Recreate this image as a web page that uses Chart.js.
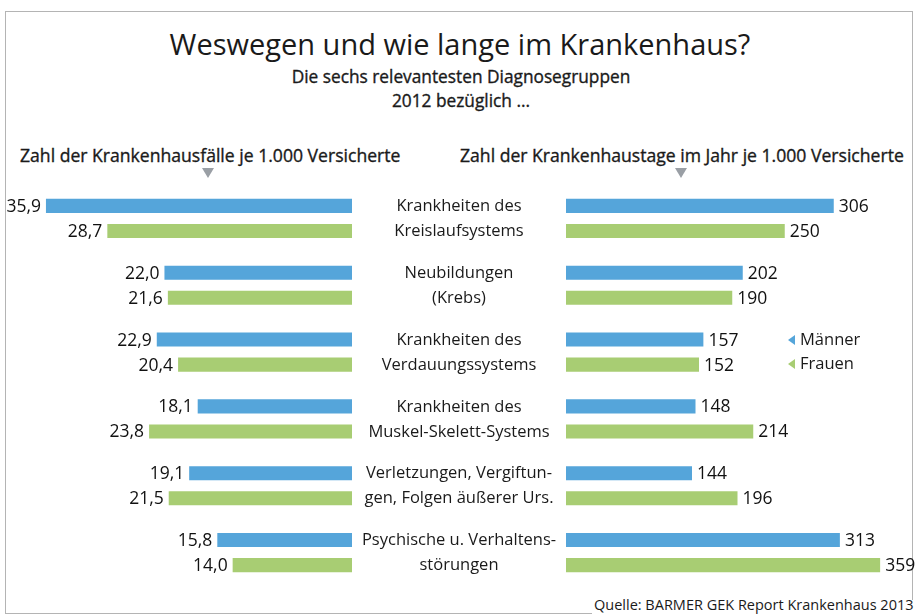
<!DOCTYPE html>
<html>
<head>
<meta charset="utf-8">
<script src="https://cdn.jsdelivr.net/npm/chart.js@4"></script>
<style>
  html, body { margin: 0; padding: 0; background: #fff; }
  #wrap { position: relative; width: 920px; height: 616px; overflow: hidden; font-family: "Open Sans", sans-serif; color: #1a1a1a; }
  #wrap canvas { position: absolute; left: 0; top: 0; }
  .frame { position: absolute; left: 5px; top: 11px; width: 907px; height: 602px; border: 1.5px solid #b4b4b4; border-bottom: none; border-right: none; }
  .frame-r { position: absolute; left: 912px; top: 11px; width: 0; height: 589px; border-left: 1.5px solid #b4b4b4; }
  .frame-b { position: absolute; left: 5px; top: 613px; width: 587px; height: 0; border-top: 1.5px solid #b4b4b4; }
  .t { position: absolute; white-space: nowrap; }
  .med { -webkit-text-stroke: 0.35px #1a1a1a; }
  .tri { position: absolute; width: 0; height: 0; border-left: 6px solid transparent; border-right: 6px solid transparent; border-top: 10px solid #9a9fa5; }
</style>
</head>
<body>
<div id="wrap">
  <div class="frame"></div>
  <div class="frame-r"></div>
  <div class="frame-b"></div>
  <div class="t" style="left:0;width:920px;text-align:center;top:24px;font-size:29px;">Weswegen und wie lange im Krankenhaus?</div>
  <div class="t med" style="left:0;width:922px;text-align:center;top:65px;font-size:17.3px;line-height:24px;">Die sechs relevantesten Diagnosegruppen<br>2012 bezüglich ...</div>
  <div class="t med" style="left:20px;top:143px;font-size:17.6px;">Zahl der Krankenhausfälle je 1.000 Versicherte</div>
  <div class="t med" style="left:460px;top:143px;font-size:17.6px;">Zahl der Krankenhaustage im Jahr je 1.000 Versicherte</div>
  <div class="tri" style="left:202px;top:168px;"></div>
  <div class="tri" style="left:675px;top:168px;"></div>
  <div class="t" style="left:594px;top:595px;font-size:14.5px;">Quelle: BARMER GEK Report Krankenhaus 2013</div>
  <canvas id="left" width="920" height="616"></canvas>
  <canvas id="right" width="920" height="616"></canvas>
</div>
<script>
const categories = [
  ['Krankheiten des', 'Kreislaufsystems'],
  ['Neubildungen', '(Krebs)'],
  ['Krankheiten des', 'Verdauungssystems'],
  ['Krankheiten des', 'Muskel-Skelett-Systems'],
  ['Verletzungen, Vergiftun-', 'gen, Folgen äußerer Urs.'],
  ['Psychische u. Verhaltens-', 'störungen']
];
const seriesNames = ['Männer', 'Frauen'];
const faelleMaenner = [35.9, 22.0, 22.9, 18.1, 19.1, 15.8];
const faelleFrauen = [28.7, 21.6, 20.4, 23.8, 21.5, 14.0];
const tageMaenner = [306, 202, 157, 148, 144, 313];
const tageFrauen = [250, 190, 152, 214, 196, 359];

const BLUE = '#55a5da';
const GREEN = '#a8cd73';
const FONT = '"Open Sans", sans-serif';

// Werte an die Balkenenden schreiben
const valueLabels = {
  id: 'valueLabels',
  afterDatasetsDraw(chart, args, opts) {
    const ctx = chart.ctx;
    ctx.save();
    ctx.font = '17.5px ' + FONT;
    ctx.fillStyle = '#111';
    ctx.textBaseline = 'middle';
    chart.data.datasets.forEach((ds, di) => {
      chart.getDatasetMeta(di).data.forEach((bar, i) => {
        const v = ds.data[i];
        const txt = opts.decimals ? v.toFixed(1).replace('.', ',') : String(v);
        if (opts.side === 'left') {
          ctx.textAlign = 'right';
          ctx.fillText(txt, bar.x - 5, bar.y + 1);
        } else {
          ctx.textAlign = 'left';
          ctx.fillText(txt, bar.x + 5, bar.y + 1);
        }
      });
    });
    ctx.restore();
  }
};

// Kategorien in der Mitte + Legende
const middleLabels = {
  id: 'middleLabels',
  afterDraw(chart) {
    const ctx = chart.ctx;
    const y = chart.scales.y;
    ctx.save();
    ctx.font = '16.5px ' + FONT;
    ctx.fillStyle = '#1a1a1a';
    ctx.textAlign = 'center';
    ctx.textBaseline = 'middle';
    categories.forEach((lines, i) => {
      const cy = y.getPixelForValue(i);
      ctx.fillText(lines[0], 459, cy - 12);
      ctx.fillText(lines[1], 459, cy + 13);
    });
    // Legende
    const lx = 788, ly = y.getPixelForValue(2);
    [BLUE, GREEN].forEach((c, k) => {
      const yy = ly - 12 + k * 24;
      ctx.fillStyle = c;
      ctx.beginPath();
      ctx.moveTo(lx, yy);
      ctx.lineTo(lx + 7, yy - 5);
      ctx.lineTo(lx + 7, yy + 5);
      ctx.closePath();
      ctx.fill();
      ctx.fillStyle = '#1a1a1a';
      ctx.textAlign = 'left';
      ctx.fillText(seriesNames[k], lx + 12, yy);
    });
    ctx.restore();
  }
};

function makeChart(id, a, b, max, reverse, pad, labelOpts, extra) {
  return new Chart(document.getElementById(id), {
    type: 'bar',
    data: {
      labels: categories.map(c => c.join(' ')),
      datasets: [
        { label: seriesNames[0], data: a, backgroundColor: BLUE },
        { label: seriesNames[1], data: b, backgroundColor: GREEN }
      ]
    },
    options: {
      indexAxis: 'y',
      responsive: false,
      animation: false,
      categoryPercentage: 0.75,
      barPercentage: 0.56,
      layout: { padding: pad },
      scales: {
        x: { display: false, min: 0, max: max, reverse: reverse },
        y: { display: false }
      },
      plugins: {
        legend: { display: false },
        tooltip: { enabled: false },
        valueLabels: labelOpts
      }
    },
    plugins: [valueLabels].concat(extra)
  });
}

makeChart('left', faelleMaenner, faelleFrauen, 40, true,
  { left: 11, right: 568, top: 185, bottom: 30 },
  { side: 'left', decimals: true }, []);
makeChart('right', tageMaenner, tageFrauen, 400, false,
  { left: 566, right: 4, top: 185, bottom: 30 },
  { side: 'right', decimals: false }, [middleLabels]);
</script>
</body>
</html>
